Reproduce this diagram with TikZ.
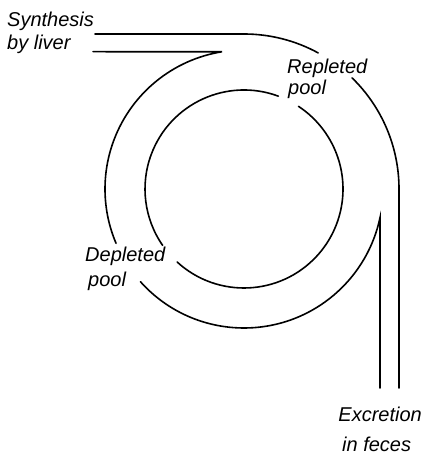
\documentclass[tikz,border=0pt]{standalone}
\usepackage{fontspec}
\setmainfont{Liberation Sans}
\begin{document}
\begin{tikzpicture}[x=1pt,y=1pt,
  flow/.style={line width=1.6pt, line cap=round},
  lbl/.style={anchor=base west, inner sep=0pt, font=\itshape\fontsize{20}{20}\selectfont}]
\useasboundingbox (0,0) rectangle (424,455);
\coordinate (c) at (244,266);
% text
\node[lbl] (syn) at (7,428) {Synthesis};
\node[lbl] (liver) at (7,405) {by liver};
\node[lbl] (rep) at (287,381) {Repleted};
\node[lbl] (rpool) at (288,360) {pool};
\node[lbl] (dep) at (85,193) {Depleted};
\node[lbl] (dpool) at (88,168) {pool};
\node[lbl, anchor=base east] (exc) at (422,33) {Excretion};
\node[lbl] (feces) at (342,3) {in feces};
% inner circle
\draw[flow] ([shift={(69.7:99pt)}]c) arc[start angle=69.7, end angle=214.7, radius=99pt];
\draw[flow] ([shift={(227.5:99pt)}]c) arc[start angle=227.5, end angle=416.6, radius=99pt];
% middle channel
\coordinate (m0) at (93,403.3);
\coordinate (m1) at (380,67);
\draw[flow] (m0) -- ([shift={(99.1:139pt)}]c) arc[start angle=99.1, end angle=203, radius=139pt];
\draw[flow] ([shift={(221.8:139pt)}]c) arc[start angle=221.8, end angle=348.1, radius=139pt] -- (m1);
% outer channel
\coordinate (o0) at (95,421);
\coordinate (o1) at (399,67);
\draw[flow] (o0) -- ([shift={(90:155pt)}]c) arc[start angle=90, end angle=61.4, radius=155pt];
\draw[flow] ([shift={(45.8:155pt)}]c) arc[start angle=45.8, end angle=0, radius=155pt] -- (o1);
\end{tikzpicture}
\end{document}
